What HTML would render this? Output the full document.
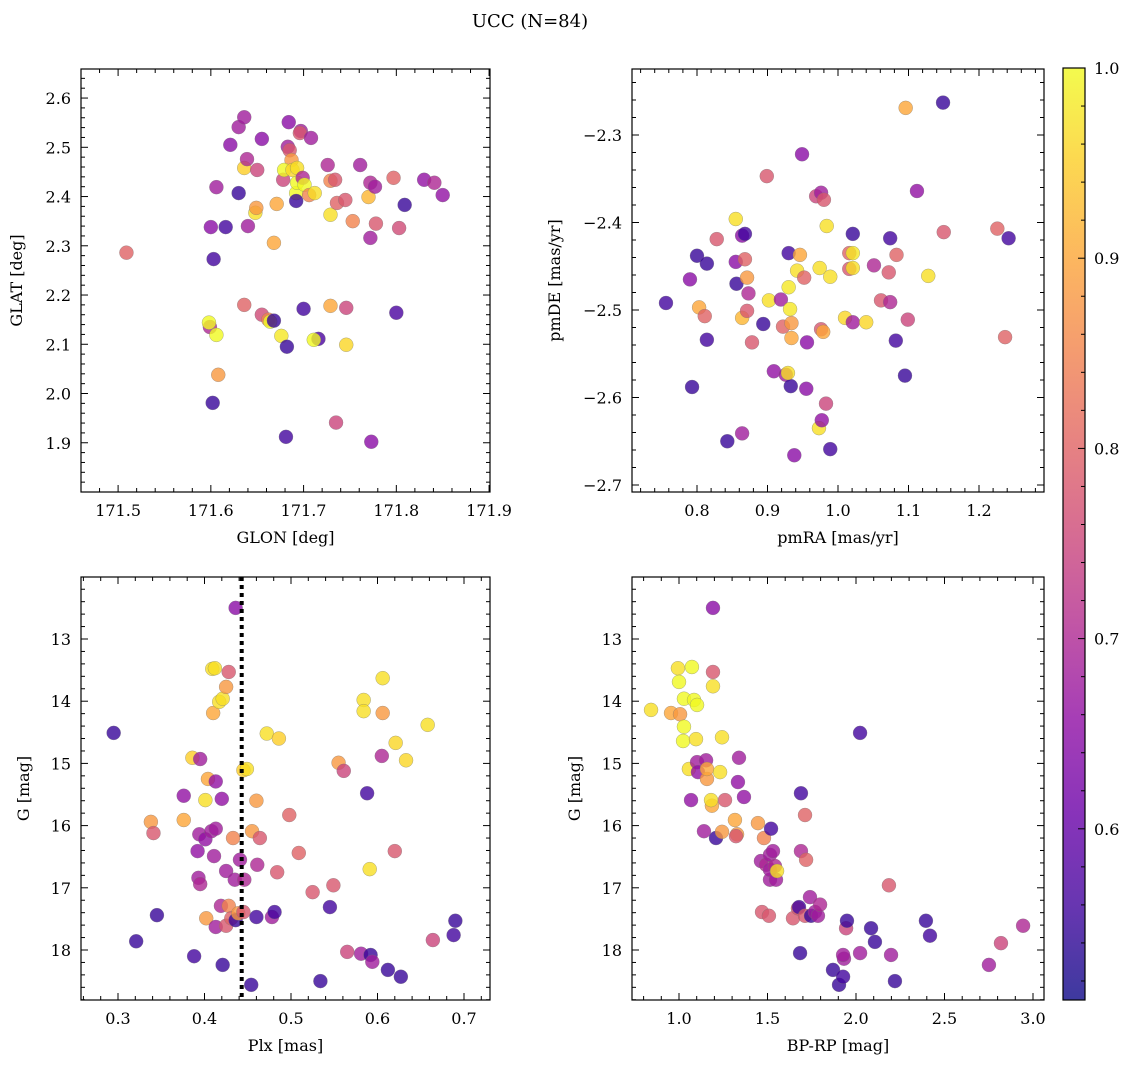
<!DOCTYPE html>
<html><head><meta charset="utf-8"><style>
body{margin:0;background:#fff}
svg text{font-family:"DejaVu Serif","Liberation Serif",serif;fill:#000}
</style></head><body>
<svg id="fig" width="1136" height="1068" xmlns="http://www.w3.org/2000/svg">
<text x="530" y="27" font-size="18" text-anchor="middle">UCC (N=84)</text>
</svg>
<script>
// Panel 1: GLON vs GLAT
const p1_glon=[171.509,171.599,171.598,171.606,171.608,171.602,171.603,171.6,171.606,171.616,171.621,171.63,171.636,171.63,171.636,171.639,171.65,171.64,171.636,171.648,171.649,171.655,171.655,171.662,171.664,171.668,171.668,171.671,171.676,171.682,171.681,171.678,171.684,171.683,171.685,171.687,171.679,171.688,171.693,171.692,171.693,171.692,171.697,171.696,171.699,171.7,171.701,171.708,171.706,171.712,171.716,171.711,171.726,171.729,171.734,171.729,171.729,171.736,171.745,171.746,171.746,171.735,171.753,171.761,171.77,171.772,171.777,171.772,171.773,171.778,171.797,171.8,171.803,171.809,171.83,171.841,171.85];
const p1_glat=[2.286,2.135,2.144,2.119,2.038,1.981,2.273,2.338,2.419,2.338,2.505,2.541,2.561,2.407,2.458,2.476,2.454,2.34,2.18,2.367,2.377,2.517,2.16,2.15,2.146,2.148,2.306,2.385,2.117,2.095,1.912,2.434,2.551,2.501,2.494,2.474,2.454,2.454,2.458,2.407,2.428,2.391,2.533,2.529,2.438,2.172,2.424,2.519,2.403,2.407,2.111,2.109,2.464,2.432,2.434,2.363,2.178,2.387,2.393,2.174,2.099,1.941,2.35,2.464,2.399,2.428,2.42,2.316,1.902,2.345,2.438,2.164,2.336,2.383,2.434,2.428,2.403];
const p1_prob=[.8,.7,1,1,.88,.55,.56,.65,.68,.56,.65,.68,.68,.55,.95,.7,.75,.68,.8,.97,.88,.65,.76,.85,1,.55,.9,.9,.98,.55,.56,.75,.65,.68,.78,.88,1,.96,.97,1,1,.55,.68,.78,.7,.56,1,.68,.85,.97,.57,1,.7,.85,.78,.97,.9,.8,.78,.75,.96,.75,.85,.68,.92,.7,.68,.68,.65,.78,.8,.57,.76,.55,.66,.7,.66];
// Panel 2: pmRA vs pmDE
const p2_pmra=[0.756,0.79,0.8,0.793,0.803,0.811,0.814,0.814,0.828,0.843,0.855,0.856,0.855,0.864,0.868,0.864,0.868,0.871,0.871,0.873,0.864,0.878,0.894,0.899,0.902,0.909,0.919,0.922,0.926,0.93,0.93,0.932,0.934,0.934,0.933,0.929,0.938,0.942,0.946,0.949,0.952,0.955,0.956,0.969,0.976,0.98,0.974,0.976,0.979,0.973,0.977,0.983,0.984,0.989,0.989,1.01,1.016,1.016,1.021,1.021,1.021,1.021,1.04,1.051,1.061,1.072,1.074,1.074,1.082,1.083,1.096,1.099,1.095,1.112,1.128,1.15,1.149,1.226,1.237,1.242];
const p2_pmde=[-2.492,-2.465,-2.438,-2.588,-2.497,-2.507,-2.447,-2.534,-2.419,-2.65,-2.445,-2.47,-2.396,-2.415,-2.413,-2.509,-2.442,-2.463,-2.501,-2.481,-2.641,-2.537,-2.516,-2.347,-2.489,-2.57,-2.488,-2.519,-2.574,-2.435,-2.474,-2.499,-2.515,-2.532,-2.587,-2.572,-2.666,-2.455,-2.437,-2.322,-2.463,-2.59,-2.537,-2.37,-2.366,-2.374,-2.452,-2.522,-2.525,-2.635,-2.626,-2.607,-2.404,-2.462,-2.659,-2.509,-2.435,-2.453,-2.413,-2.435,-2.452,-2.514,-2.514,-2.449,-2.489,-2.457,-2.491,-2.418,-2.535,-2.437,-2.269,-2.511,-2.575,-2.364,-2.461,-2.411,-2.263,-2.407,-2.531,-2.418];
const p2_prob=[.56,.65,.55,.55,.9,.8,.55,.56,.78,.55,.65,.55,.97,.65,.56,.92,.8,.88,.78,.7,.68,.78,.55,.78,.97,.66,.68,.8,.68,.56,.98,.98,.88,.9,.55,.97,.65,.97,.9,.65,.8,.65,.65,.75,.68,.78,.97,.78,.9,.97,.66,.75,.97,.97,.56,.96,.8,.78,.55,.98,.97,.68,.96,.7,.78,.78,.7,.56,.56,.8,.9,.75,.55,.66,.97,.78,.55,.8,.8,.56];
// Panel 3: Plx vs G
const p3_plx=[0.295,0.321,0.345,0.338,0.341,0.376,0.376,0.386,0.388,0.395,0.394,0.392,0.393,0.395,0.401,0.401,0.402,0.404,0.408,0.409,0.412,0.413,0.413,0.411,0.413,0.41,0.417,0.421,0.419,0.421,0.42,0.425,0.425,0.425,0.428,0.428,0.431,0.433,0.435,0.436,0.436,0.439,0.441,0.445,0.446,0.449,0.445,0.454,0.455,0.46,0.46,0.461,0.464,0.472,0.486,0.478,0.481,0.484,0.498,0.509,0.525,0.534,0.545,0.549,0.555,0.561,0.565,0.581,0.584,0.584,0.588,0.591,0.592,0.594,0.605,0.606,0.606,0.612,0.62,0.621,0.627,0.633,0.658,0.664,0.688,0.69];
const p3_g=[14.51,17.86,17.44,15.94,16.12,15.52,15.91,14.91,18.1,14.93,16.14,16.41,16.84,16.94,15.59,16.22,17.49,15.25,16.09,13.48,13.47,15.29,16.05,16.49,17.63,14.19,14.01,13.96,17.29,18.24,15.57,17.61,16.73,13.77,13.53,17.29,17.49,16.2,16.87,12.5,17.52,17.41,16.55,15.11,16.87,15.09,17.39,18.56,16.09,15.6,17.47,16.63,16.2,14.52,14.6,17.47,17.39,16.75,15.83,16.44,17.07,18.5,17.31,16.96,14.99,15.12,18.03,18.06,13.98,14.16,15.48,16.7,18.08,18.19,14.88,13.63,14.19,18.32,16.41,14.67,18.43,14.95,14.38,17.84,17.76,17.53];
const p3_prob=[.55,.55,.55,.88,.78,.66,.9,.95,.56,.68,.68,.66,.68,.7,.97,.66,.88,.9,.68,.97,.97,.66,.68,.68,.68,.9,.97,.97,.7,.55,.66,.78,.68,.88,.78,.85,.8,.85,.68,.65,.55,.88,.68,.95,.7,.97,.78,.55,.88,.88,.56,.7,.78,.97,.95,.68,.56,.78,.8,.8,.78,.55,.56,.78,.88,.75,.75,.68,.97,.97,.56,.97,.55,.68,.7,.97,.88,.55,.78,.96,.55,.96,.97,.75,.56,.55];
const p3_plxline=0.443;
// Panel 4: BP-RP vs G
const p4_bprp=[0.842,0.955,0.994,1.0,1.006,1.028,1.028,1.023,1.056,1.068,1.073,1.085,1.102,1.102,1.107,1.096,1.141,1.153,1.158,1.158,1.186,1.192,1.192,1.192,1.181,1.209,1.232,1.243,1.26,1.243,1.328,1.316,1.322,1.333,1.339,1.367,1.446,1.463,1.469,1.48,1.492,1.508,1.514,1.514,1.514,1.52,1.531,1.542,1.548,1.554,1.644,1.672,1.678,1.684,1.689,1.689,1.712,1.718,1.712,1.74,1.746,1.768,1.785,1.797,1.87,1.904,1.932,1.927,1.944,1.949,1.927,2.023,2.023,2.085,2.107,2.186,2.198,2.22,2.395,2.418,2.751,2.819,2.944];
const p4_g=[14.14,14.19,13.47,13.69,14.21,13.96,14.41,14.64,15.09,15.59,13.45,13.98,14.06,14.98,15.14,14.61,16.09,14.95,15.25,15.09,15.68,12.5,13.53,13.76,15.59,16.2,15.14,14.58,15.59,16.1,16.14,15.91,16.17,15.3,14.91,15.54,15.96,16.57,17.39,16.2,16.63,17.45,16.47,16.87,16.71,16.05,16.41,16.65,16.87,16.73,17.49,17.33,17.31,18.05,15.48,16.41,15.83,16.55,17.45,17.15,17.45,17.39,17.45,17.27,18.32,18.56,18.14,18.43,17.65,17.53,18.08,14.51,18.05,17.65,17.87,16.96,18.08,18.5,17.53,17.77,18.24,17.89,17.61];
const p4_prob=[.97,.9,.97,1,.88,1,1,1,.97,.66,1,1,1,.68,.66,.97,.68,.68,.88,.9,.9,.65,.78,.97,.97,.55,.97,.97,.78,.88,.88,.9,.78,.66,.68,.66,.88,.68,.78,.85,.7,.78,.68,.68,.68,.56,.68,.7,.68,.97,.78,.78,.56,.55,.56,.7,.8,.8,.78,.68,.55,.68,.68,.7,.55,.55,.68,.56,.75,.55,.68,.56,.68,.55,.55,.78,.68,.55,.55,.56,.68,.75,.7];
const cbTicks=[0.6,0.7,0.8,0.9,1.0];
const pMin=0.51,pMax=1.0;

const NS="http://www.w3.org/2000/svg";
const svg=document.getElementById('fig');
function el(t,a,parent){const e=document.createElementNS(NS,t);for(const k in a)e.setAttribute(k,a[k]);(parent||svg).appendChild(e);return e;}
const stops=["#0d0887","#41049d","#6a00a8","#8f0da4","#b12a90","#cc4778","#e16462","#f2844b","#fca636","#fcce25","#f0f921"];
function hx(h){return [1,3,5].map(i=>parseInt(h.substr(i,2),16));}
function plasma(t){t=Math.max(0,Math.min(1,t));const s=t*10,i=Math.min(9,Math.floor(s)),f=s-i;const a=hx(stops[i]),b=hx(stops[i+1]);return 'rgb('+a.map((v,k)=>Math.round(v+(b[k]-v)*f)).join(',')+')';}
function color(p){return plasma((p-pMin)/(pMax-pMin));}

function panel(o){
  const g=el('g',{});
  
  
  const X=v=>o.x0+(v-o.xmin)/(o.xmax-o.xmin)*(o.x1-o.x0);
  const Y=o.yinv?(v=>o.y0+(v-o.ymin)/(o.ymax-o.ymin)*(o.y1-o.y0)):(v=>o.y1-(v-o.ymin)/(o.ymax-o.ymin)*(o.y1-o.y0));
  for(let i=0;i<o.xs.length;i++){
    const c=el('circle',{cx:X(o.xs[i]),cy:Y(o.ys[i]),r:7,fill:color(o.ps[i]),'fill-opacity':0.8,stroke:'#777','stroke-width':0.5,'stroke-opacity':0.6},g);
    
    
  }
  if(o.vline!==undefined){
    const l=el('line',{x1:X(o.vline),x2:X(o.vline),y1:o.y0,y2:o.y1,stroke:'#000','stroke-width':4,'stroke-dasharray':'4,4'},g);
    
    
  }
  const fr=el('rect',{x:o.x0,y:o.y0,width:o.x1-o.x0,height:o.y1-o.y0,fill:'none',stroke:'#000','stroke-width':1.2},g);
  
  
  const eps=1e-9;
  for(let v=Math.ceil(o.xmin/o.xminor-eps)*o.xminor;v<=o.xmax+eps;v+=o.xminor){
    const px=X(v);const maj=Math.abs(Math.round(v/o.xmajor)*o.xmajor-v)<o.xminor/10;const L=maj?7:4;
    el('line',{x1:px,x2:px,y1:o.y1,y2:o.y1-L,stroke:'#000'},g);el('line',{x1:px,x2:px,y1:o.y0,y2:o.y0+L,stroke:'#000'},g);
  }
  for(let v=Math.ceil(o.ymin/o.yminor-eps)*o.yminor;v<=o.ymax+eps;v+=o.yminor){
    const py=Y(v);const maj=Math.abs(Math.round(v/o.ymajor)*o.ymajor-v)<o.yminor/10;const L=maj?7:4;
    el('line',{x1:o.x0,x2:o.x0+L,y1:py,y2:py,stroke:'#000'},g);el('line',{x1:o.x1,x2:o.x1-L,y1:py,y2:py,stroke:'#000'},g);
  }
  o.xticks.forEach(v=>{const t=el('text',{x:X(v),y:o.y1+24,'font-size':16,'text-anchor':'middle'},g);t.textContent=v.toFixed(o.xdec);
    });
  o.yticks.forEach(v=>{const t=el('text',{x:o.x0-10,y:Y(v)+6,'font-size':16,'text-anchor':'end'},g);t.textContent=(v<0?'\u2212':'')+Math.abs(v).toFixed(o.ydec);
    });
  const xl=el('text',{x:(o.x0+o.x1)/2,y:o.y1+51,'font-size':16,'text-anchor':'middle'},g);xl.textContent=o.xlabel;
  
  const yx=o.ylx,yy=(o.y0+o.y1)/2;
  const yl=el('text',{x:yx,y:yy,'font-size':16,'text-anchor':'middle',transform:`rotate(-90 ${yx} ${yy})`},g);yl.textContent=o.ylabel;
  
}
panel({name:'glon-glat-panel',xs:p1_glon,ys:p1_glat,ps:p1_prob,x0:81,x1:490,y0:69,y1:492,xmin:171.460,xmax:171.901,ymin:1.80,ymax:2.659,
  xmajor:0.1,xminor:0.02,ymajor:0.1,yminor:0.02,xticks:[171.5,171.6,171.7,171.8,171.9],yticks:[1.9,2.0,2.1,2.2,2.3,2.4,2.5,2.6],xdec:1,ydec:1,xlabel:'GLON [deg]',ylabel:'GLAT [deg]',ylx:22});
panel({name:'pm-panel',xs:p2_pmra,ys:p2_pmde,ps:p2_prob,x0:632,x1:1044,y0:69,y1:492,xmin:0.8-65/705,xmax:0.8+347/705,ymin:-2.3-357/875,ymax:-2.3+66/875,
  xmajor:0.1,xminor:0.02,ymajor:0.1,yminor:0.02,xticks:[0.8,0.9,1.0,1.1,1.2],yticks:[-2.7,-2.6,-2.5,-2.4,-2.3],xdec:1,ydec:1,xlabel:'pmRA [mas/yr]',ylabel:'pmDE [mas/yr]',ylx:560});
panel({name:'plx-g-panel',xs:p3_plx,ys:p3_g,ps:p3_prob,vline:p3_plxline,x0:81,x1:490,y0:577,y1:1000,xmin:0.3-37/865,xmax:0.3+372/865,ymin:13-62/62.2,ymax:13+361/62.2,yinv:true,
  xmajor:0.1,xminor:0.02,ymajor:1,yminor:0.2,xticks:[0.3,0.4,0.5,0.6,0.7],yticks:[13,14,15,16,17,18],xdec:1,ydec:0,xlabel:'Plx [mas]',ylabel:'G [mag]',ylx:29});
panel({name:'cmd-panel',xs:p4_bprp,ys:p4_g,ps:p4_prob,x0:632,x1:1044,y0:577,y1:1000,xmin:1.0-47/177,xmax:1.0+365/177,ymin:13-62/62.2,ymax:13+361/62.2,yinv:true,
  xmajor:0.5,xminor:0.1,ymajor:1,yminor:0.2,xticks:[1.0,1.5,2.0,2.5,3.0],yticks:[13,14,15,16,17,18],xdec:1,ydec:0,xlabel:'BP-RP [mag]',ylabel:'G [mag]',ylx:580});

const cb=el('g',{});


const defs=el('defs',{},cb);
const lg=el('linearGradient',{id:'pl',x1:0,y1:1,x2:0,y2:0},defs);
for(let i=0;i<=20;i++)el('stop',{offset:i/20,'stop-color':plasma(i/20),'stop-opacity':0.8},lg);
const cbx0=1063,cbx1=1085,cby0=68,cby1=1000;
el('rect',{x:cbx0,y:cby0,width:cbx1-cbx0,height:cby1-cby0,fill:'url(#pl)',stroke:'#000','stroke-width':1.2},cb);
const CY=v=>cby1-(v-pMin)/(pMax-pMin)*(cby1-cby0);
for(let v=0.52;v<=1.0001;v+=0.02){const maj=Math.abs(Math.round(v*10)/10-v)<0.002;el('line',{x1:cbx1,x2:cbx1-(maj?7:4),y1:CY(v),y2:CY(v),stroke:'#000'},cb);}
cbTicks.forEach(v=>{const t=el('text',{x:cbx1+9,y:CY(v)+6,'font-size':16},cb);t.textContent=v.toFixed(1);
  });
</script>
</body></html>
